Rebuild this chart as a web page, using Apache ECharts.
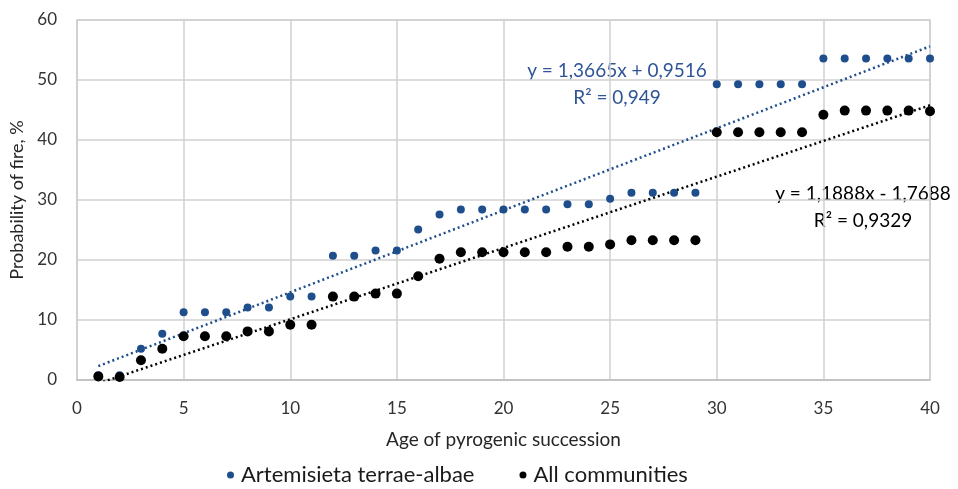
<!DOCTYPE html>
<html>
<head>
<meta charset="utf-8">
<script src="https://cdn.jsdelivr.net/npm/echarts@6/dist/echarts.min.js"></script>
<style>
  html, body { margin: 0; padding: 0; background: #fff; }
  #container { width: 958px; height: 489px; }
</style>
</head>
<body>
<div id="container"></div>
<script>
var ages = [1,2,3,4,5,6,7,8,9,10,11,12,13,14,15,16,17,18,19,20,21,22,23,24,25,26,27,28,29,30,31,32,33,34,35,36,37,38,39,40];
var artemisieta = [0.8,0.8,5.2,7.7,11.3,11.3,11.3,12.1,12.1,13.9,13.9,20.7,20.7,21.6,21.6,25.1,27.6,28.4,28.4,28.4,28.4,28.4,29.3,29.3,30.2,31.2,31.2,31.2,31.2,49.3,49.3,49.3,49.3,49.3,53.6,53.6,53.6,53.6,53.6,53.6];
var allCommunities = [0.6,0.5,3.3,5.2,7.3,7.3,7.3,8.1,8.1,9.2,9.2,13.9,13.9,14.4,14.4,17.3,20.2,21.3,21.3,21.3,21.3,21.3,22.2,22.2,22.6,23.3,23.3,23.3,23.3,41.3,41.3,41.3,41.3,41.3,44.2,44.9,44.9,44.9,44.9,44.8];
// trend line coefficients as printed on the chart
var trendArt = { slope: 1.3665, intercept: 0.9516 };
var trendAll = { slope: 1.1888, intercept: -1.7688 };

var blue = '#1f4e8c';
var font = 'Lato';

function pairs(xs, ys) {
    return xs.map(function (x, i) { return [x, ys[i]]; });
}
function trend(t) {
    var x0 = ages[0], x1 = ages[ages.length - 1];
    return [[x0, t.slope * x0 + t.intercept], [x1, t.slope * x1 + t.intercept]];
}

var dom = document.getElementById("container");
var myChart = echarts.init(dom);
var option = {
    animation: false,
    textStyle: { fontFamily: font },
    grid: {
        left: 77,
        right: 28,
        top: 20,
        bottom: 109,
        show: true,
        borderColor: '#d0d0d0',
        borderWidth: 1.5
    },
    legend: {
        data: ['Artemisieta terrae-albae', 'All communities'],
        top: 459,
        left: 222,
        itemGap: 45,
        itemWidth: 7,
        itemHeight: 7,
        textStyle: { fontSize: 22, color: '#1a1a1a', fontFamily: font, padding: [0, 0, 0, 2] }
    },
    xAxis: {
        type: 'value',
        min: 0,
        max: 40,
        interval: 5,
        name: 'Age of pyrogenic succession',
        nameLocation: 'middle',
        nameGap: 50,
        nameTextStyle: { fontSize: 19, color: '#262626' },
        axisLine: { show: true, lineStyle: { color: '#bfbfbf', width: 1.5 } },
        axisTick: { show: false },
        axisLabel: { fontSize: 17, color: '#333', margin: 20 },
        splitLine: { show: true, lineStyle: { color: '#d0d0d0', width: 1.5 } }
    },
    yAxis: {
        type: 'value',
        min: 0,
        max: 60,
        interval: 10,
        name: 'Probability of fire, %',
        nameLocation: 'middle',
        nameGap: 47,
        nameTextStyle: { fontSize: 18, color: '#262626' },
        axisLine: { show: true, lineStyle: { color: '#d0d0d0', width: 1.5 } },
        axisTick: { show: false },
        axisLabel: { fontSize: 17, color: '#333', margin: 20 },
        splitLine: { show: true, lineStyle: { color: '#d0d0d0', width: 1.5 } }
    },
    series: [
        {
            name: 'Artemisieta terrae-albae',
            type: 'scatter',
            symbolSize: 8,
            itemStyle: { color: blue, opacity: 1 },
            data: pairs(ages, artemisieta),
            z: 3
        },
        {
            name: 'All communities',
            type: 'scatter',
            symbolSize: 10,
            itemStyle: { color: '#000', opacity: 1 },
            data: pairs(ages, allCommunities),
            z: 3
        },
        {
            type: 'line',
            symbol: 'none',
            silent: true,
            clip: true,
            lineStyle: { color: blue, width: 2.5, type: [2, 3] },
            data: trend(trendArt),
            z: 2
        },
        {
            type: 'line',
            symbol: 'none',
            silent: true,
            clip: true,
            lineStyle: { color: '#000', width: 2.5, type: [2, 3] },
            data: trend(trendAll),
            z: 2
        }
    ],
    graphic: [
        {
            type: 'text', x: 617, y: 84,
            style: { text: 'y = 1,3665x + 0,9516\nR² = 0,949', fill: '#2f5597', font: '19px ' + font, align: 'center', verticalAlign: 'middle', lineHeight: 27 }
        },
        {
            type: 'text', x: 863, y: 207,
            style: { text: 'y = 1,1888x - 1,7688\nR² = 0,9329', fill: '#000', font: '19px ' + font, align: 'center', verticalAlign: 'middle', lineHeight: 27 }
        }
    ]
};
if (option && typeof option === "object") {
    myChart.setOption(option, true);
}
</script>
</body>
</html>
